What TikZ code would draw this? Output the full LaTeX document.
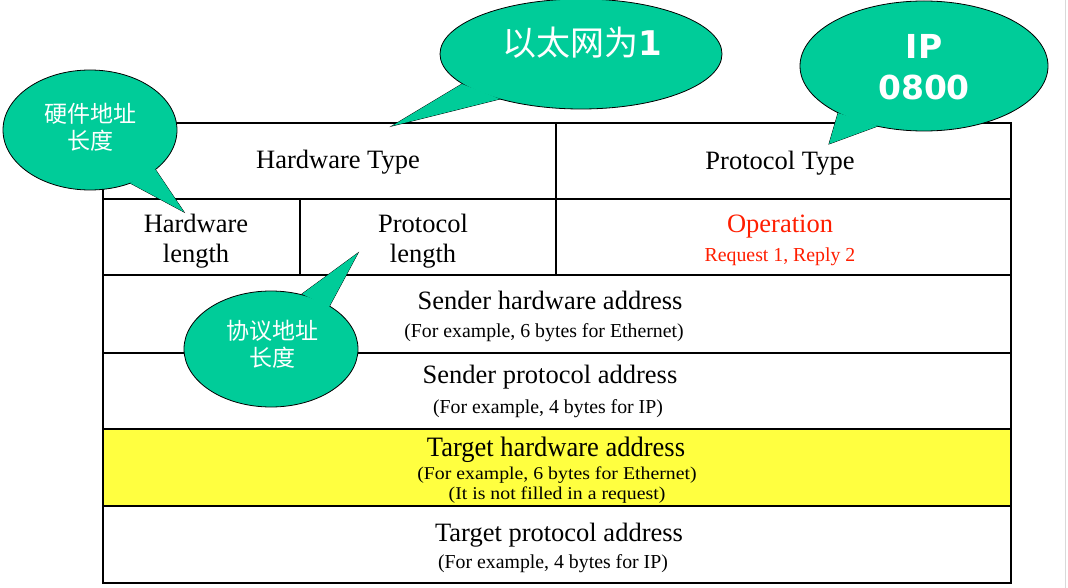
\documentclass[tikz,border=0pt]{standalone}
\usepackage{fontspec}
\usepackage{graphicx}
\setmainfont{Liberation Serif}
\newfontfamily\cjk{Noto Sans CJK SC}
\newfontfamily\callfont{DejaVu Sans}
\definecolor{callgreen}{RGB}{0,204,153}
\definecolor{rowyellow}{RGB}{255,255,64}
\definecolor{oprred}{RGB}{255,30,0}
\begin{document}
\begin{tikzpicture}[x=1pt,y=-1pt,
  cell/.style={draw=black, line width=1.6pt},
  big/.style={font=\fontsize{26.5}{29}\selectfont, inner sep=0, anchor=base},
  small/.style={font=\fontsize{19.8}{22}\selectfont, inner sep=0, anchor=base},
  tight/.style={font=\fontsize{18}{20}\selectfont, inner sep=0, anchor=base},
  callout/.style={fill=callgreen, draw=black, line width=0.8pt},
  calloutfill/.style={fill=callgreen},
  ctext/.style={text=white, align=center, inner sep=0}]

\useasboundingbox (0,0) rectangle (1068,588);
\fill[white] (0,0) rectangle (1068,588);
\draw[black!15, line width=1pt] (1065,0) -- (1065,588);

% table
\fill[rowyellow] (103,429) rectangle (1011,506);
\draw[cell] (103,123) rectangle (1011,583);
\draw[cell] (103,199) -- (1011,199);
\draw[cell] (103,275) -- (1011,275);
\draw[cell] (103,353) -- (1011,353);
\draw[cell] (103,429) -- (1011,429);
\draw[cell] (103,506) -- (1011,506);
\draw[cell] (556,123) -- (556,275);
\draw[cell] (300,199) -- (300,275);

\node[big] (hwtype) at (338,169) {Hardware Type};
\node[big] (prtype) at (780,170) {Protocol Type};
\node[big] (hwlen1) at (196,233) {Hardware};
\node[big] (hwlen2) at (196,262) {length};
\node[big] (prlen1) at (423,233) {Protocol};
\node[big] (prlen2) at (423,262) {length};
\node[big, text=oprred] (op) at (780,233) {Operation};
\node[small, text=oprred] (opv) at (780,261) {Request 1, Reply 2};
\node[big] (sha) at (550,309) {Sender hardware address};
\node[small] (shae) at (544,337) {(For example, 6 bytes for Ethernet)};
\node[big] (spa) at (550,383) {Sender protocol address};
\node[small] (spae) at (548,413) {(For example, 4 bytes for IP)};
\node[big] (tha) at (556,456) {\scalebox{1.0}[1.06]{Target hardware address}};
\node[tight] (thae) at (557,479) {\scalebox{1.1}[1.0]{(For example, 6 bytes for Ethernet)}};
\node[tight] (than) at (557,499) {\scalebox{1.1}[1.0]{(It is not filled in a request)}};
\node[big] (tpa) at (559,541) {Target protocol address};
\node[small] (tpae) at (553,568) {(For example, 4 bytes for IP)};

% callout 1: Ethernet
\draw[callout] (462,84) -- (392,126) -- (500,99) -- cycle;
\draw[callout] (581,54) ellipse [x radius=141, y radius=55];
\fill[calloutfill] (462,84) -- (392,126) -- (500,99) -- cycle;
\node[ctext] (eth) at (582,43) {\fontsize{34}{36}\selectfont\cjk 以太网为\callfont\bfseries 1};

% callout 2: IP 0800
\draw[callout] (838,113) -- (829,144) -- (878,126) -- cycle;
\draw[callout] (924,66) ellipse [x radius=124, y radius=65];
\fill[calloutfill] (838,113) -- (829,144) -- (878,126) -- cycle;
\node[ctext, font=\callfont\bfseries\fontsize{33}{41}\selectfont] (ip) at (924,67) {IP\\0800};

% callout 3: hardware length
\draw[callout] (155,169) -- (184,212) -- (130,183) -- cycle;
\draw[callout] (90,130) ellipse [x radius=87, y radius=60];
\fill[calloutfill] (155,169) -- (184,212) -- (130,183) -- cycle;
\node[ctext, font=\cjk\fontsize{23}{27}\selectfont] (hwc) at (90,127) {硬件地址\\长度};

% callout 4: protocol length
\draw[callout] (302,294) -- (358,253) -- (329,307) -- cycle;
\draw[callout] (271,349) ellipse [x radius=87, y radius=58];
\fill[calloutfill] (302,294) -- (358,253) -- (329,307) -- cycle;
\node[ctext, font=\cjk\fontsize{23}{27}\selectfont] (prc) at (272,344) {协议地址\\长度};
\end{tikzpicture}
\end{document}
